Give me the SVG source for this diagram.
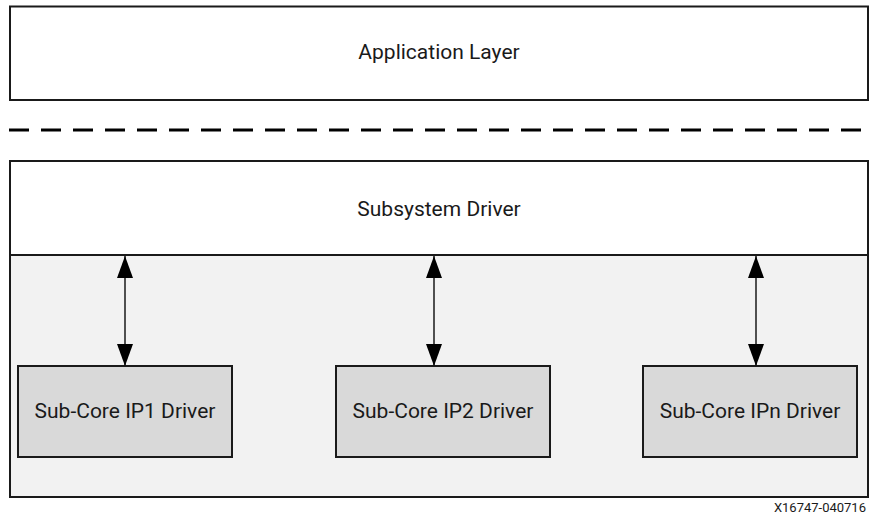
<svg xmlns="http://www.w3.org/2000/svg" width="870" height="516" viewBox="0 0 870 516">
<defs>
<style>
.box{stroke:#1a1a1a;stroke-width:2}
.lbl{font-family:Roboto,"Liberation Sans",sans-serif;font-size:21px;fill:#1a1a1a;text-anchor:middle}
.conn{stroke:#1a1a1a;stroke-width:1.5;fill:none}
</style>
<marker id="ah" viewBox="0 0 22 16" refX="22" refY="8" markerWidth="22" markerHeight="16" markerUnits="userSpaceOnUse" orient="auto-start-reverse">
<path d="M0,0 L22,8 L0,16 Z" fill="#000"/>
</marker>
</defs>
<rect width="870" height="516" fill="#fff"/>
<g id="app-layer">
<rect class="box" x="10" y="6.5" width="858" height="93.5" fill="#fff"/>
<text class="lbl" x="439" y="59">Application Layer</text>
</g>
<line x1="9" y1="130" x2="862" y2="130" stroke="#000" stroke-width="3" stroke-dasharray="20 12"/>
<g id="subsystem">
<rect class="box" x="10" y="255" width="858" height="242" fill="#f2f2f2"/>
<rect class="box" x="10" y="161" width="858" height="94" fill="#fff"/>
<text class="lbl" x="439" y="216">Subsystem Driver</text>
</g>
<g id="ip1">
<rect class="box" x="18" y="366" width="214" height="91" fill="#d9d9d9"/>
<text class="lbl" x="125" y="418">Sub-Core IP1 Driver</text>
</g>
<g id="ip2">
<rect class="box" x="336" y="366" width="214" height="91" fill="#d9d9d9"/>
<text class="lbl" x="443" y="418">Sub-Core IP2 Driver</text>
</g>
<g id="ipn">
<rect class="box" x="643" y="366" width="214" height="91" fill="#d9d9d9"/>
<text class="lbl" x="750" y="418">Sub-Core IPn Driver</text>
</g>
<g id="connectors">
<line class="conn" x1="125" y1="256" x2="125" y2="366" marker-start="url(#ah)" marker-end="url(#ah)"/>
<line class="conn" x1="434" y1="256" x2="434" y2="366" marker-start="url(#ah)" marker-end="url(#ah)"/>
<line class="conn" x1="756" y1="256" x2="756" y2="366" marker-start="url(#ah)" marker-end="url(#ah)"/>
</g>
<text x="866" y="512" font-family="Roboto,'Liberation Sans',sans-serif" font-size="13" fill="#1a1a1a" text-anchor="end">X16747-040716</text>
</svg>
